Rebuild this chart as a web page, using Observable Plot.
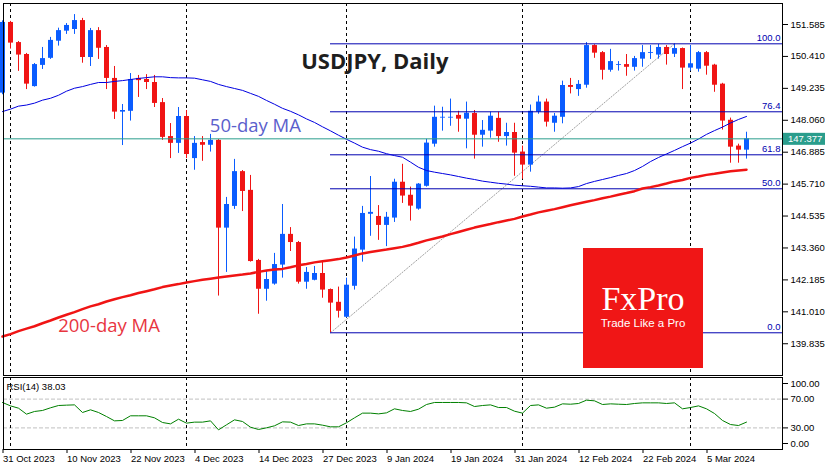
<!DOCTYPE html>
<html><head><meta charset="utf-8">
<script src="https://cdn.jsdelivr.net/npm/d3@7"></script>
<script src="https://cdn.jsdelivr.net/npm/@observablehq/plot@0.6"></script>
<style>
html,body{margin:0;padding:0;background:#fff;}
#wrap{position:relative;width:835px;height:470px;overflow:hidden;background:#fff;}
#wrap svg{position:absolute;left:0;overflow:visible;}
</style></head><body><div id="wrap"></div>
<script>
// ---- data (bar index 0 = 31 Oct 2023 ... 93 = 12 Mar 2024) ----
const open = [149.06,151.66,150.92,150.48,149.30,150.08,150.34,150.97,151.34,151.40,
151.73,150.37,151.36,150.74,149.60,148.36,148.39,149.60,149.56,149.45,
148.71,147.46,147.21,148.20,146.65,147.24,147.14,147.32,144.09,144.89,
146.17,145.48,142.90,141.84,142.03,142.73,143.86,143.56,142.10,142.17,
142.42,141.83,141.36,140.81,141.95,143.28,144.60,144.52,144.19,144.46,
145.78,145.30,144.79,145.63,147.18,148.14,148.14,148.24,148.10,148.31,
147.51,147.66,148.13,147.46,147.61,146.89,146.41,148.36,148.73,147.95,
148.17,149.34,149.19,149.35,150.81,150.55,149.90,150.08,150.11,150.01,
150.31,150.52,150.46,150.74,150.49,150.70,149.98,149.94,150.55,150.09,
149.39,148.06,147.11,146.96];
const high = [151.72,151.70,150.96,150.52,150.15,150.74,151.11,151.45,151.62,151.95,
151.81,151.44,151.47,150.81,150.04,148.64,149.78,149.71,149.74,149.71,
148.86,147.94,148.53,148.42,147.46,147.46,147.54,147.35,145.22,146.62,
146.21,146.03,142.94,142.53,143.16,144.96,144.11,143.60,142.64,142.68,
142.86,141.85,141.92,142.25,143.76,144.89,145.99,144.92,144.67,145.89,
146.44,145.60,145.73,147.36,148.58,148.54,148.84,148.39,148.73,148.42,
148.05,148.36,148.36,147.95,147.95,147.11,148.62,148.95,148.84,148.31,
149.50,149.60,149.52,150.92,150.84,150.59,150.67,150.22,150.48,150.41,
150.81,150.81,150.85,150.81,150.87,150.72,150.81,150.59,150.59,150.12,
149.42,148.14,147.18,147.62];
const low = [149.00,150.68,149.86,149.19,149.28,149.93,150.30,150.79,151.22,151.22,
150.16,150.04,150.30,149.19,148.09,147.13,148.03,148.90,149.19,148.53,
147.32,146.65,146.84,146.65,146.22,146.55,146.89,141.59,142.46,144.78,
144.70,142.84,140.92,141.40,141.99,142.25,143.23,142.03,141.84,142.15,
141.51,140.24,140.78,140.78,141.81,142.84,143.79,143.64,143.41,144.30,
145.00,144.35,144.75,145.60,147.07,147.66,147.84,147.62,147.01,146.63,
147.07,147.40,147.25,147.11,146.00,145.89,146.15,148.28,147.81,147.62,
147.93,149.03,148.94,149.24,150.34,149.54,149.83,149.87,149.68,149.87,
150.01,150.30,150.31,150.09,150.37,149.19,149.87,149.83,149.72,149.09,
147.70,146.48,146.48,146.63];
const close = [151.66,150.90,150.46,149.39,150.11,150.33,151.00,151.36,151.55,151.73,
150.37,151.36,150.71,149.60,148.36,148.42,149.56,149.52,149.45,148.68,
147.43,147.21,148.20,146.80,147.21,147.14,147.32,144.09,144.96,146.17,
145.44,142.86,141.84,142.20,142.75,143.86,143.56,142.10,142.46,142.42,
141.81,141.33,141.03,141.99,143.32,144.63,144.67,144.19,144.49,145.78,
145.27,144.90,145.71,147.22,148.17,148.17,148.17,148.10,148.32,147.51,
147.69,148.21,147.46,147.61,146.85,146.41,148.39,148.73,147.99,148.21,
149.34,149.27,149.38,150.81,150.53,149.90,150.22,150.11,150.01,150.33,
150.55,150.55,150.74,150.48,150.70,149.98,150.14,150.55,150.05,149.35,
148.03,147.07,146.96,147.377];
const ma50 = [148.38,148.47,148.58,148.62,148.69,148.80,148.87,148.98,149.13,149.24,
149.30,149.38,149.45,149.45,149.49,149.52,149.56,149.60,149.63,149.66,
149.66,149.63,149.62,149.62,149.61,149.55,149.49,149.38,149.30,149.23,
149.16,149.05,148.94,148.79,148.65,148.50,148.39,148.26,148.11,147.98,
147.82,147.67,147.51,147.36,147.22,147.07,146.98,146.92,146.83,146.76,
146.70,146.52,146.33,146.21,146.15,146.10,146.05,145.99,145.93,145.88,
145.82,145.78,145.74,145.71,145.67,145.65,145.63,145.60,145.57,145.57,
145.56,145.57,145.62,145.73,145.81,145.88,145.95,146.03,146.10,146.21,
146.36,146.54,146.69,146.82,146.95,147.09,147.22,147.37,147.54,147.68,
147.81,147.96,148.09,148.20];
const ma200 = [140.10,140.19,140.30,140.39,140.48,140.59,140.69,140.80,140.90,141.00,
141.11,141.21,141.29,141.39,141.47,141.55,141.62,141.70,141.77,141.84,
141.92,141.98,142.03,142.09,142.14,142.19,142.23,142.27,142.31,142.35,
142.38,142.42,142.48,142.53,142.57,142.59,142.65,142.72,142.77,142.83,
142.87,142.91,142.95,143.01,143.08,143.16,143.21,143.26,143.30,143.35,
143.40,143.47,143.55,143.64,143.71,143.78,143.87,143.95,144.03,144.11,
144.18,144.24,144.31,144.37,144.43,144.52,144.59,144.67,144.73,144.79,
144.86,144.93,145.00,145.06,145.12,145.19,145.25,145.32,145.38,145.45,
145.55,145.60,145.66,145.73,145.81,145.86,145.94,145.99,146.05,146.09,
146.14,146.18,146.21,146.24];
const rsi = [65.3,60.6,57.4,49.1,52.8,54.2,57.9,61.1,61.6,62.0,
51.4,55.1,51.4,45.8,39.8,40.3,46.8,46.8,46.8,44.0,
37.5,35.6,42.1,36.6,38.0,38.0,39.8,27.3,34.3,41.2,
38.9,31.0,27.8,30.1,32.9,38.4,38.0,33.3,35.6,35.6,
33.8,31.5,31.5,37.1,44.0,50.5,50.5,49.5,50.9,56.5,
54.2,52.8,56.0,62.5,65.3,65.3,65.3,65.3,64.8,59.7,
61.1,62.0,58.3,58.3,53.2,50.5,61.1,62.0,57.4,58.8,
63.4,62.9,63.9,68.5,67.6,62.5,63.4,62.9,62.5,63.9,
64.8,64.8,64.8,63.9,64.8,56.5,58.3,60.6,56.5,50.0,
40.3,34.7,33.3,38.03];
const monthStarts = [1, 23, 43, 65, 86];           // bar index of 1 Nov, 1 Dec, 2 Jan, 1 Feb, 1 Mar
const dateTickBars = [0,8,16,24,32,40,48,56,64,72,80,88];
const dateTickLabels = ["31 Oct 2023","10 Nov 2023","22 Nov 2023","4 Dec 2023","14 Dec 2023","27 Dec 2023",
  "9 Jan 2024","19 Jan 2024","31 Jan 2024","12 Feb 2024","22 Feb 2024","5 Mar 2024"];
const priceTicks = [151.585,150.410,149.235,148.060,146.885,145.710,144.535,143.360,142.185,141.010,139.835];
const fibLabels = ["100.0","76.4","61.8","50.0","0.0"];
const fibPrices = [150.874,148.372,146.789,145.538,140.238];
const fibFromBar = 41, fibToBar = 84;
const bid = 147.377;

// ---- styling ----
const BLUE = "#0a5cff", RED = "#f01414", TEAL = "#2a9d8c", FIB = "#0000b0";
const AXISFONT = "Liberation Sans, Arial, sans-serif";
const XD = [0.125, 97.5];

const bars = open.map((o, i) => ({i, o, h: high[i], l: low[i], c: close[i], up: close[i] >= o}));
const ma50d = ma50.map((v, i) => ({i, v}));
const ma200d = ma200.map((v, i) => ({i, v}));
const rsid = rsi.map((v, i) => ({i, v}));
const fibs = fibPrices.map((p, k) => ({p, label: fibLabels[k]}));

const main = Plot.plot({
  width: 835, height: 376,
  marginTop: 3, marginBottom: 1, marginLeft: 3, marginRight: 53,
  x: {domain: XD, axis: null},
  y: {domain: [138.666, 152.358]},
  style: {fontFamily: AXISFONT, fontSize: "9.5px", color: "#000", background: "transparent", overflow: "visible"},
  marks: [
    Plot.ruleX(monthStarts, {stroke: "#000", strokeDasharray: "3,3"}),
    Plot.link([0], {x1: fibFromBar, y1: fibPrices[4], x2: fibToBar, y2: fibPrices[0], stroke: "#a0a0a0", strokeDasharray: "2,1"}),
    Plot.ruleX(bars, {x: "i", y1: "l", y2: "h", stroke: d => d.up ? BLUE : RED, strokeWidth: 1}),
    Plot.ruleX(bars, {x: "i", y1: "o", y2: "c", stroke: d => d.up ? BLUE : RED, strokeWidth: 5}),
    Plot.ruleY(fibs, {y: "p", x1: fibFromBar, x2: XD[1], stroke: FIB, strokeWidth: 1}),
    Plot.text(fibs, {y: "p", x: XD[1], text: "label", textAnchor: "end", lineAnchor: "bottom", dx: -2, dy: -3, fill: FIB, fontSize: 9.5}),
    Plot.line(ma200d, {x: "i", y: "v", stroke: RED, strokeWidth: 2.5}),
    Plot.line(ma50d, {x: "i", y: "v", stroke: "#0000e0", strokeWidth: 1}),
    Plot.ruleY([bid], {stroke: TEAL, strokeWidth: 1}),
    Plot.text(["USDJPY, Daily"], {frameAnchor: "top-left", dx: 297.7, dy: 65, lineAnchor: "bottom", textAnchor: "start",
      fontSize: 22, fontWeight: 700, fill: "#1e1e1e", fontFamily: "Open Sans, sans-serif"}),
    Plot.text(["50-day MA"], {frameAnchor: "top-left", dx: 206.3, dy: 128, lineAnchor: "bottom", textAnchor: "start",
      fontSize: 18.5, fill: "#5b60cc", fontFamily: "Open Sans, sans-serif"}),
    Plot.text(["200-day MA"], {frameAnchor: "top-left", dx: 54.7, dy: 328.5, lineAnchor: "bottom", textAnchor: "start",
      fontSize: 18.5, fill: "#e8363f", fontFamily: "Open Sans, sans-serif"}),
    Plot.axisY(priceTicks, {anchor: "right", tickSize: 5, tickPadding: 3, tickFormat: d => d.toFixed(3), fontSize: 9.5, label: null}),
    Plot.frame({stroke: "#000"})
  ]
});

const rsiPlot = Plot.plot({
  width: 835, height: 94,
  marginTop: 1, marginBottom: 21, marginLeft: 3, marginRight: 53,
  x: {domain: XD},
  y: {domain: [0, 100]},
  style: {fontFamily: AXISFONT, fontSize: "9.5px", color: "#000", background: "transparent", overflow: "visible"},
  marks: [
    Plot.ruleY([30, 70], {stroke: "#c0c0c0", strokeDasharray: "4,2"}),
    Plot.ruleX(monthStarts, {stroke: "#000", strokeDasharray: "3,3"}),
    Plot.line(rsid, {x: "i", y: "v", stroke: "#008000", strokeWidth: 1}),
    Plot.axisY([30, 70], {anchor: "right", tickSize: 5, tickPadding: 3, tickFormat: d => d.toFixed(2), fontSize: 9.5, label: null}),
    Plot.axisY([100], {anchor: "right", tickSize: 5, tickPadding: 3, tickFormat: d => d.toFixed(2), fontSize: 9.5, label: null, dy: 6}),
    Plot.axisY([0], {anchor: "right", tickSize: 5, tickPadding: 3, tickFormat: d => d.toFixed(2), fontSize: 9.5, label: null, dy: -6}),
    Plot.axisX(dateTickBars, {anchor: "bottom", tickSize: 4, tickPadding: 2, textAnchor: "start", dx: 0.5,
      tickFormat: d => dateTickLabels[dateTickBars.indexOf(d)], fontSize: 9.5, label: null}),
    Plot.text([`RSI(14) ${rsi[rsi.length - 1].toFixed(2)}`], {frameAnchor: "top-left", dx: 3, dy: 6, lineAnchor: "top",
      textAnchor: "start", fontSize: 9.5, fill: "#000"}),
    Plot.frame({stroke: "#000"})
  ]
});

const wrap = document.getElementById("wrap");
main.style.top = "0px";
rsiPlot.style.top = "376px";
wrap.appendChild(main);
wrap.appendChild(rsiPlot);

// price tag for the current bid, positioned with the plot's own y scale
const yb = main.scale("y").apply(bid);
const tag = d3.select(main).append("g").attr("text-anchor", "start");
tag.append("rect").attr("x", 783).attr("y", yb - 5.5).attr("width", 42).attr("height", 12).attr("fill", TEAL);
tag.append("text").attr("x", 788).attr("y", yb + 0.5).attr("dy", "0.35em").attr("fill", "#fff").attr("text-anchor", "start")
  .attr("font-family", AXISFONT).attr("font-size", 9.5).text(bid.toFixed(3));

// FxPro logo
const logo = d3.select(main).append("g");
logo.append("rect").attr("x", 583).attr("y", 248).attr("width", 120).attr("height", 120).attr("fill", "#f01616");
logo.append("text").attr("x", 643).attr("y", 310).attr("text-anchor", "middle").attr("fill", "#fff")
  .attr("font-family", "Liberation Serif, serif").attr("font-size", 34).text("FxPro");
logo.append("text").attr("x", 643).attr("y", 326.5).attr("text-anchor", "middle").attr("fill", "#fff")
  .attr("font-family", "Liberation Sans, Arial, sans-serif").attr("font-size", 11.5).text("Trade Like a Pro");
</script></body></html>
